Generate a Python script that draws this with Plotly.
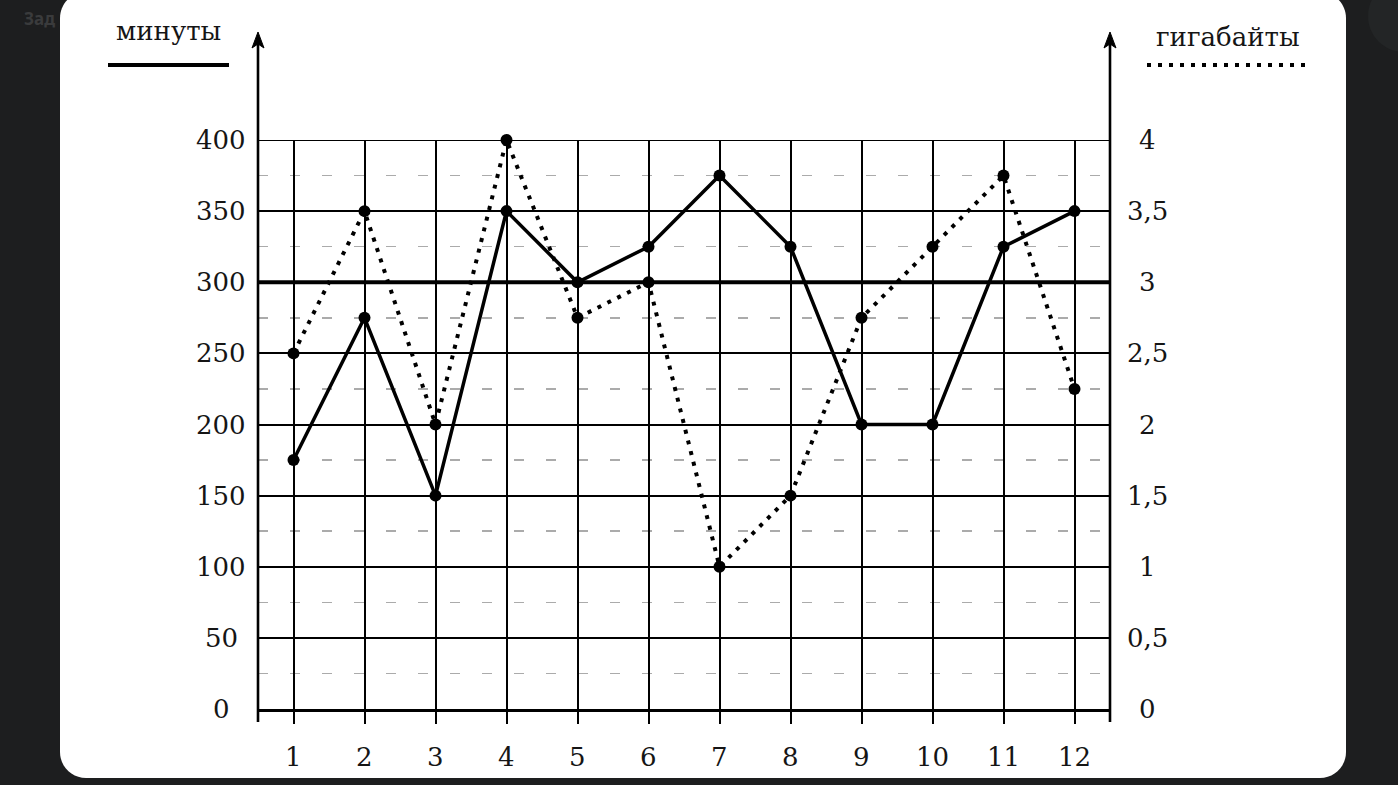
import plotly.graph_objects as go

# ---- data ----
months = [1, 2, 3, 4, 5, 6, 7, 8, 9, 10, 11, 12]
minutes = [175, 275, 150, 350, 300, 325, 375, 325, 200, 200, 325, 350]
gigabytes = [2.5, 3.5, 2, 4, 2.75, 3, 1, 1.5, 2.75, 3.25, 3.75, 2.25]
min_ticks = [0, 50, 100, 150, 200, 250, 300, 350, 400]
gb_ticks = [0, 0.5, 1, 1.5, 2, 2.5, 3, 3.5, 4]
gb_labels = ["0", "0,5", "1", "1,5", "2", "2,5", "3", "3,5", "4"]
x_labels = [str(m) for m in months]

W, H = 1398, 785
L, R, T, B = 258, 1110, 140, 709
FONT = "DejaVu Serif"
FS = 26
BG = "#1d1e1f"


def px(x):
    return (x - L) / (R - L)


def py(y):
    return (B - y) / (B - T)


def path_px(points_cmds):
    out = []
    for item in points_cmds:
        if isinstance(item, str):
            out.append(item)
        else:
            out.append(f"{px(item[0]):.5f},{py(item[1]):.5f}")
    return " ".join(out)


def rounded_rect(x0, y0, x1, y1, r):
    k = 0.5523 * r
    cmds = [
        "M", (x0 + r, y0), "L", (x1 - r, y0),
        "C", (x1 - r + k, y0), (x1, y0 + r - k), (x1, y0 + r),
        "L", (x1, y1 - r),
        "C", (x1, y1 - r + k), (x1 - r + k, y1), (x1 - r, y1),
        "L", (x0 + r, y1),
        "C", (x0 + r - k, y1), (x0, y1 - r + k), (x0, y1 - r),
        "L", (x0, y0 + r),
        "C", (x0, y0 + r - k), (x0 + r - k, y0), (x0 + r, y0), "Z",
    ]
    return path_px(cmds)


fig = go.Figure()

fig.add_trace(go.Scatter(
    x=months, y=gigabytes, yaxis="y2", mode="lines+markers",
    line=dict(color="black", width=4, dash="4px,7px"),
    marker=dict(color="black", size=12), cliponaxis=False,
    name="гигабайты", showlegend=False))
fig.add_trace(go.Scatter(
    x=months, y=minutes, mode="lines+markers",
    line=dict(color="black", width=3.5),
    marker=dict(color="black", size=12), cliponaxis=False,
    name="минуты", showlegend=False))

shapes = []
# white card
shapes.append(dict(type="path", xref="paper", yref="paper", layer="below",
                   path=rounded_rect(60, -8, 1346, 778, 26),
                   fillcolor="white", line=dict(width=0)))
# dark circle top-right
shapes.append(dict(type="path", xref="paper", yref="paper", layer="below",
                   path=rounded_rect(1368, -20, 1440, 52, 36),
                   fillcolor="#232526", line=dict(width=0)))
# thick 300 line and top line
shapes.append(dict(type="line", xref="x", yref="y", x0=0.5, x1=12.5, y0=300, y1=300,
                   line=dict(color="black", width=4)))
shapes.append(dict(type="line", xref="x", yref="y", x0=0.5, x1=12.5, y0=400, y1=400,
                   line=dict(color="black", width=2)))
# vertical axes with arrows
for ax_x in (258, 1110):
    shapes.append(dict(type="line", xref="paper", yref="paper",
                       x0=px(ax_x), x1=px(ax_x), y0=py(722), y1=py(42),
                       line=dict(color="black", width=2.6)))
    shapes.append(dict(type="path", xref="paper", yref="paper",
                       path=path_px(["M", (ax_x, 32), "L", (ax_x + 6, 48), "L", (ax_x, 44),
                                     "L", (ax_x - 6, 48), "Z"]),
                       fillcolor="black", line=dict(color="black", width=1)))
# legend lines
shapes.append(dict(type="line", xref="paper", yref="paper",
                   x0=px(108), x1=px(229), y0=py(65), y1=py(65),
                   line=dict(color="black", width=4)))
shapes.append(dict(type="line", xref="paper", yref="paper",
                   x0=px(1147), x1=px(1312), y0=py(65), y1=py(65),
                   line=dict(color="black", width=4, dash="4px,7px")))

annotations = []
font = dict(family=FONT, size=FS, color="#151515")
for v in min_ticks:
    annotations.append(dict(x=px(221), y=v, xref="paper", yref="y", text=str(v),
                            showarrow=False, xanchor="center", yanchor="middle", font=font))
for v, t in zip(gb_ticks, gb_labels):
    annotations.append(dict(x=px(1147), y=v, xref="paper", yref="y2", text=t,
                            showarrow=False, xanchor="center", yanchor="middle", font=font))
for m, t in zip(months, x_labels):
    annotations.append(dict(x=m, y=py(757), xref="x", yref="paper", text=t,
                            showarrow=False, xanchor="center", yanchor="middle", font=font))
annotations.append(dict(x=px(168), y=py(31), xref="paper", yref="paper", text="минуты",
                        showarrow=False, xanchor="center", yanchor="middle", font=font))
annotations.append(dict(x=px(1228), y=py(37), xref="paper", yref="paper", text="гигабайты",
                        showarrow=False, xanchor="center", yanchor="middle", font=font))
annotations.append(dict(x=px(22), y=py(18), xref="paper", yref="paper", text="<b>Зад</b>",
                        showarrow=False, xanchor="left", yanchor="middle",
                        font=dict(family="Noto Sans", size=17, color="#3a3b3c")))

fig.update_layout(
    width=W, height=H,
    margin=dict(l=L, r=W - R, t=T, b=H - B),
    paper_bgcolor=BG, plot_bgcolor="white",
    showlegend=False,
    shapes=shapes, annotations=annotations,
    xaxis=dict(range=[0.5, 12.5], tickvals=months, showgrid=True, gridcolor="black",
               gridwidth=2, ticks="outside", ticklen=12, tickwidth=2, tickcolor="black",
               showticklabels=False, showline=True, linecolor="black", linewidth=2.6,
               zeroline=False, fixedrange=True),
    yaxis=dict(range=[0, 400], dtick=50, tick0=0, showgrid=True, gridcolor="black",
               gridwidth=2, showticklabels=False, ticks="", zeroline=False,
               showline=False, fixedrange=True,
               minor=dict(dtick=25, tick0=0, showgrid=True, gridcolor="#ababab",
                          gridwidth=1.5, griddash="10px,22px")),
    yaxis2=dict(range=[0, 4], overlaying="y", side="right", showgrid=False,
                showticklabels=False, zeroline=False, showline=False, ticks="",
                fixedrange=True),
)

fig.write_html(
    "out.html",
    config={"displayModeBar": False, "staticPlot": True},
    post_script="document.body.style.margin='0';"
                "document.body.style.background='#1d1e1f';"
                "document.body.style.overflow='hidden';",
)
